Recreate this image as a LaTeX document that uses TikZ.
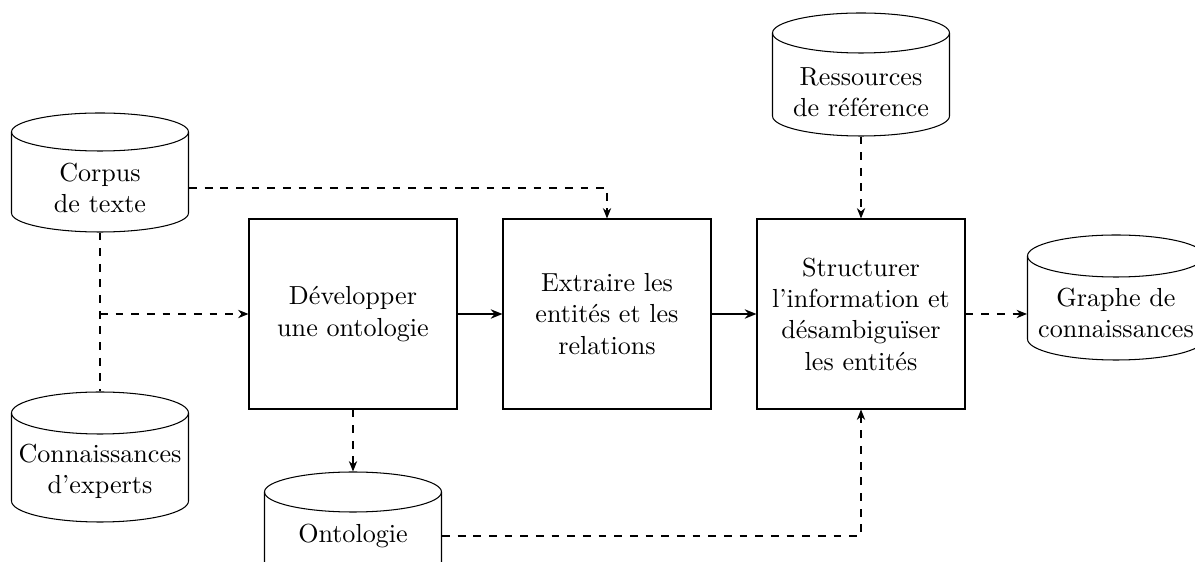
\documentclass[tikz,border=0pt]{standalone}
\usetikzlibrary{arrows.meta,calc}
\newdimen\px \px=0.38317pt
\tikzset{
  box/.style={draw, minimum width=208\px, minimum height=190\px, align=center, inner sep=0pt},
  cylshape/.style={draw=none, minimum width=177\px, inner sep=0pt},
  cyltxt/.style={minimum width=177\px, inner sep=0pt, align=center},
  cylline/.style={draw},
  dflow/.style={dashed, -{Stealth[length=4pt,width=3.2pt]}},
  sflow/.style={line width=0.7pt, -{Stealth[length=4.5pt,width=3.6pt]}},
  dline/.style={dashed}
}
\newcommand\dbcyl[7]{%
  \node[cylshape, minimum height={(#4-#3)*\px}] (#1) at (#2,{(#3+#4)/2}) {};
  \draw[cylline] (#2-88.5,#3+#5) -- (#2-88.5,#4-#5) arc[start angle=180,end angle=0,x radius=88.5,y radius=#5] -- (#2+88.5,#3+#5);
  \draw[cylline] (#2,#3+#5) ellipse[x radius=88.5,y radius=#5];
  \node[cyltxt] (#1t) at (#2,#6) {#7};
}
\begin{document}
\begin{tikzpicture}[x=0.38317pt, y=-0.38317pt]
\useasboundingbox (0,0) rectangle (1195,562);
% boxes
\node[box] (dev) at (353,314) {Développer\\une ontologie};
\node[box] (extr) at (607,314) {Extraire les\\entités et les\\relations};
\node[box] (struct) at (861,314) {Structurer\\l'information et\\désambiguïser\\les entités};
% cylinders
\dbcyl{corpus}{100}{113}{232}{19}{188}{Corpus\\de texte}
\dbcyl{conn}{100}{392}{522}{21}{471}{Connaissances\\d'experts}
\dbcyl{ress}{861}{13}{136}{20}{92}{Ressources\\de référence}
\dbcyl{graphe}{1116}{235}{360}{21}{313}{Graphe de\\connaissances}
\dbcyl{onto}{353}{472}{600}{20}{536}{Ontologie}
% connectors
\draw[dflow] (corpust.east) -| (extr.north);
\draw[dline] (corpus.south) -- (conn.north);
\coordinate (j) at (corpus.south |- dev.west);
\draw[dflow] (j) -- (dev.west);
\draw[sflow] (dev.east) -- (extr.west);
\draw[sflow] (extr.east) -- (struct.west);
\draw[dflow] (struct.east) -- (struct.east -| graphet.west);
\draw[dflow] (ress.south) -- (struct.north);
\draw[dflow] (dev.south) -- (onto.north);
\draw[dflow] (ontot.east) -| (struct.south);
\end{tikzpicture}
\end{document}
